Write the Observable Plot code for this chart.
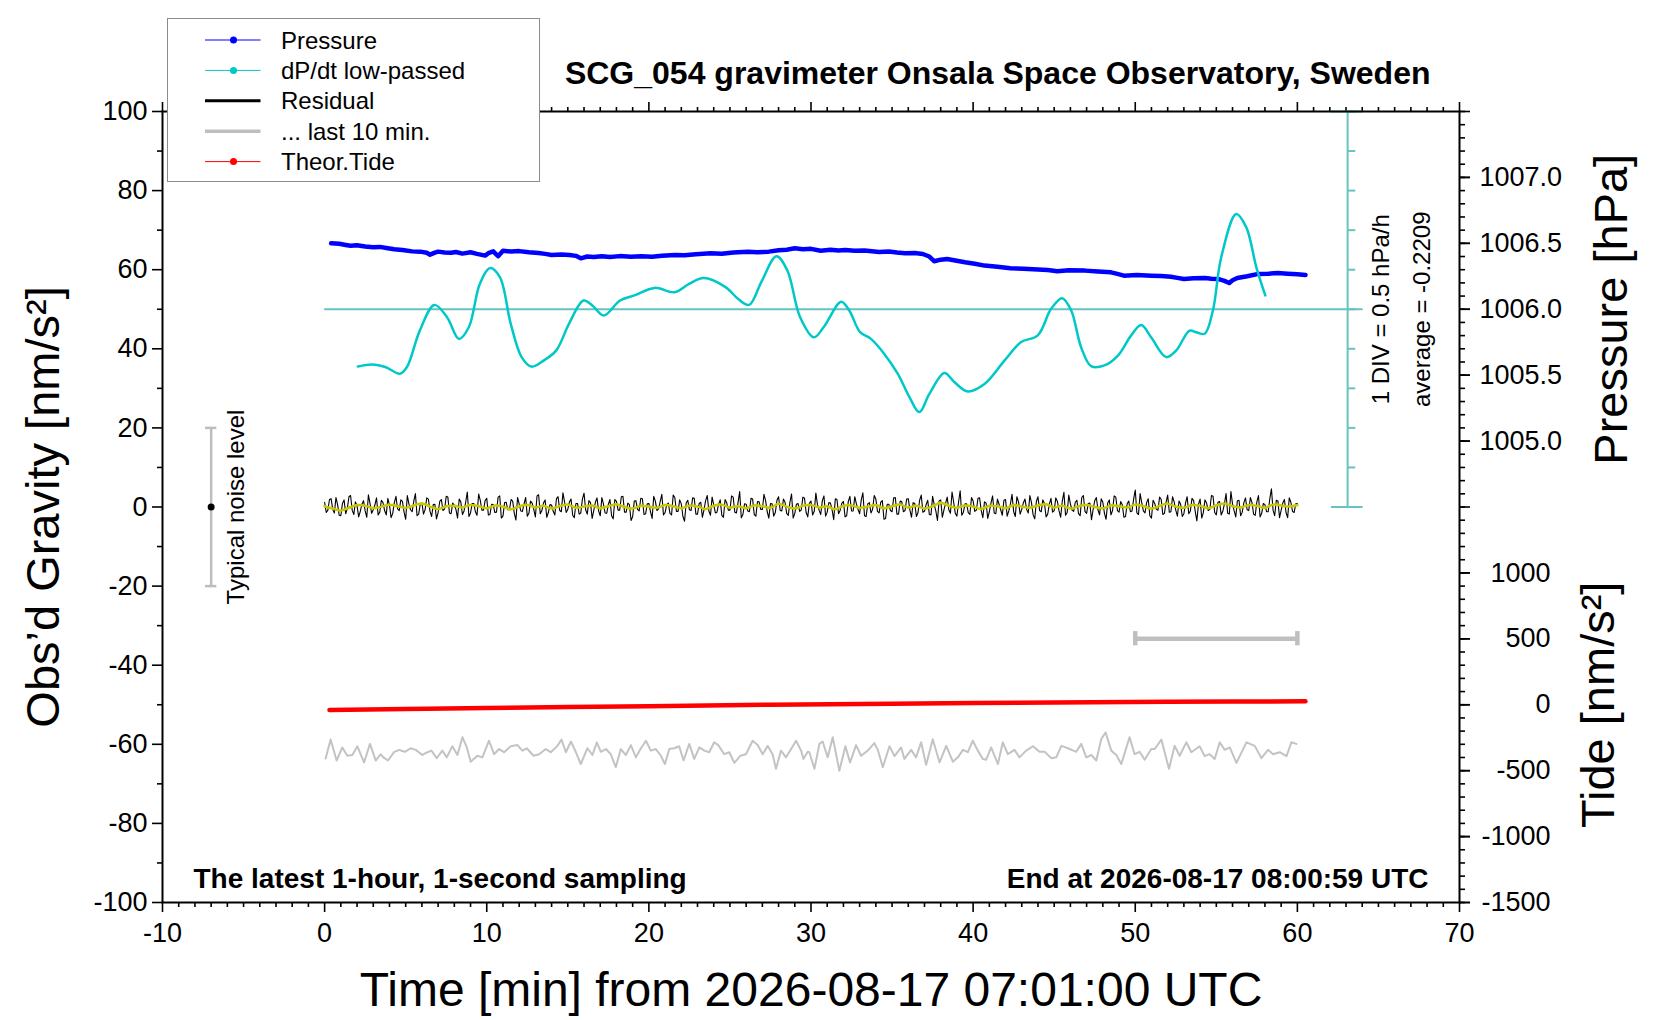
<!DOCTYPE html>
<html>
<head>
<meta charset="utf-8">
<script src="https://cdn.jsdelivr.net/npm/d3@7"></script>
<script src="https://cdn.jsdelivr.net/npm/@observablehq/plot@0.6"></script>
<style>
  html, body { margin: 0; padding: 0; background: white; overflow: hidden; }
  #wrap { position: relative; width: 1660px; height: 1020px; font-family: 'Liberation Sans', Arial, Helvetica, sans-serif; }
  #legend { position: absolute; left: 166.7px; top: 18.3px; width: 373px; height: 164px; box-sizing: border-box;
            border: 1px solid #8c8c8c; background: white; }
</style>
</head>
<body>
<div id="wrap"><div id="legend"></div></div>
<script>
// ---------- data ----------
const titleText = "SCG_054 gravimeter Onsala Space Observatory, Sweden";
const xLabel = "Time [min] from 2026-08-17 07:01:00 UTC";
const yLabelLeft = "Obs\u2019d Gravity [nm/s\u00B2]";
const yLabelPressure = "Pressure [hPa]";
const yLabelTide = "Tide [nm/s\u00B2]";
const noteLeft = "The latest 1-hour, 1-second sampling";
const noteRight = "End at 2026-08-17 08:00:59 UTC";
const divText = "1 DIV = 0.5 hPa/h";
const avgText = "average = -0.2209";
const noiseText = "Typical noise level";

// Pressure [hPa]: [minute, value]
const pressure = [[0.4,1006.500],[0.9,1006.497],[1.3,1006.488],[1.6,1006.482],[2.0,1006.485],[2.5,1006.476],[3.0,1006.470],[3.4,1006.473],[3.9,1006.463],[4.3,1006.455],[4.8,1006.450],[5.4,1006.439],[5.9,1006.437],[6.3,1006.428],[6.5,1006.414],[6.8,1006.430],[7.0,1006.437],[7.4,1006.431],[7.8,1006.428],[8.1,1006.434],[8.5,1006.422],[9.0,1006.432],[9.4,1006.420],[9.9,1006.407],[10.1,1006.425],[10.4,1006.439],[10.7,1006.402],[11.0,1006.444],[11.5,1006.438],[12.0,1006.441],[12.6,1006.432],[13.2,1006.426],[13.6,1006.420],[14.0,1006.412],[14.6,1006.416],[15.1,1006.412],[15.5,1006.405],[15.8,1006.386],[16.2,1006.400],[16.6,1006.396],[17.1,1006.402],[17.6,1006.397],[18.2,1006.403],[18.9,1006.399],[19.5,1006.402],[20.2,1006.399],[20.8,1006.405],[21.6,1006.412],[22.2,1006.409],[22.9,1006.418],[23.8,1006.424],[24.5,1006.421],[25.2,1006.430],[26.1,1006.437],[26.7,1006.432],[27.4,1006.437],[28.0,1006.447],[28.5,1006.452],[29.0,1006.462],[29.5,1006.455],[30.0,1006.458],[30.6,1006.444],[31.2,1006.452],[31.7,1006.446],[32.1,1006.449],[32.7,1006.443],[33.3,1006.446],[34.2,1006.435],[34.8,1006.438],[35.3,1006.430],[35.8,1006.424],[36.4,1006.426],[36.9,1006.419],[37.3,1006.400],[37.6,1006.364],[38.0,1006.376],[38.4,1006.381],[38.9,1006.370],[39.5,1006.356],[40.1,1006.345],[40.7,1006.331],[41.5,1006.322],[42.3,1006.311],[43.1,1006.308],[44.0,1006.301],[44.6,1006.297],[45.2,1006.288],[45.9,1006.296],[46.9,1006.293],[47.7,1006.287],[48.5,1006.280],[48.9,1006.268],[49.3,1006.255],[50.1,1006.259],[51.0,1006.255],[51.6,1006.252],[52.2,1006.247],[52.6,1006.238],[53.0,1006.230],[53.6,1006.235],[54.3,1006.237],[54.7,1006.232],[55.1,1006.230],[55.5,1006.215],[55.8,1006.199],[56.0,1006.220],[56.3,1006.237],[56.9,1006.250],[57.6,1006.268],[58.2,1006.270],[58.8,1006.275],[59.4,1006.270],[60.0,1006.266],[60.5,1006.260]];

// dP/dt low-passed, deviation from reference line [hPa/h]: [minute, value]
const dpdt = [[2.05,-0.725],[2.95,-0.70],[3.74,-0.73],[4.64,-0.815],[5.08,-0.73],[5.87,-0.27],[6.77,0.055],[7.55,-0.10],[8.29,-0.375],[8.90,-0.225],[9.57,0.32],[10.20,0.52],[10.81,0.405],[11.48,-0.185],[12.15,-0.605],[12.76,-0.725],[13.50,-0.65],[14.29,-0.52],[15.07,-0.185],[15.97,0.11],[16.53,0.045],[17.21,-0.08],[18.22,0.11],[19.11,0.175],[20.35,0.27],[21.58,0.215],[22.48,0.32],[23.38,0.395],[24.73,0.28],[25.51,0.13],[26.18,0.055],[26.97,0.36],[27.87,0.67],[28.54,0.49],[29.33,-0.10],[30.18,-0.355],[30.79,-0.225],[31.86,0.095],[32.36,-0.015],[33.03,-0.29],[33.70,-0.375],[34.52,-0.565],[35.35,-0.815],[36.07,-1.11],[36.68,-1.30],[37.30,-1.07],[38.23,-0.805],[38.84,-0.92],[39.67,-1.04],[40.70,-0.945],[41.93,-0.65],[42.96,-0.415],[43.99,-0.33],[44.81,0.005],[45.49,0.14],[46.05,-0.015],[46.66,-0.48],[47.28,-0.72],[48.10,-0.71],[48.93,-0.585],[49.75,-0.33],[50.37,-0.20],[50.98,-0.355],[51.91,-0.605],[52.53,-0.52],[53.35,-0.27],[53.76,-0.29],[54.28,-0.31],[54.79,-0.015],[55.30,0.655],[56.23,1.205],[56.85,1.035],[57.47,0.53],[58.02,0.175]];

// Residual [nm/s^2]: samples at 0, 0.2, 0.4 ... min
const residualStep = 0.2;
const residual = [
1.2,-0.8,2.1,-1.5,0.6,-2.2,1.8,-0.4,2.9,-1.9,0.3,-1.1,1.6,-2.6,0.9,-0.7,2.3,-1.3,1.1,-2.0,
0.5,-1.6,2.7,-0.9,1.4,-3.1,0.8,-1.2,3.4,-1.8,1.0,-0.6,2.0,-2.4,0.7,-1.4,1.9,-0.5,2.5,-1.7,
0.4,-2.8,1.3,-1.0,3.8,-1.5,0.9,-2.1,1.7,-0.8,2.2,-1.9,0.6,-1.3,2.8,-2.3,1.2,-0.7,1.5,-3.3,
0.8,-1.1,2.4,-1.6,1.0,-2.5,3.1,-0.9,1.8,-1.4,0.5,-2.0,2.6,-1.2,1.3,-0.6,2.0,-2.7,0.9,-1.5,
3.5,-1.8,1.1,-0.9,2.3,-2.2,0.7,-1.6,1.9,-3.0,1.4,-0.8,2.7,-1.3,0.6,-2.4,1.6,-1.0,2.1,-1.7,
0.9,-2.9,1.5,-0.5,3.2,-1.4,1.0,-2.0,2.4,-1.1,0.8,-3.6,1.7,-0.9,2.2,-1.8,1.2,-0.7,2.9,-2.1,
0.6,-1.3,1.8,-2.6,1.1,-0.8,2.5,-1.5,3.9,-1.9,0.7,-1.2,2.0,-2.3,1.3,-0.6,1.6,-2.8,0.8,-1.4,
2.6,-1.0,1.2,-2.1,3.3,-1.6,0.9,-0.7,2.2,-2.5,1.5,-1.1,0.6,-1.9,2.8,-1.3,1.0,-3.2,1.9,-0.8,
1.4,-2.2,2.7,-1.0,0.8,-1.7,3.6,-2.4,1.1,-0.6,2.0,-1.5,1.6,-2.9,0.7,-1.2,2.4,-1.8,1.3,-0.9,
2.1,-2.6,0.9,-1.4,3.0,-1.1,1.7,-2.0,0.6,-3.4,1.8,-0.7,2.5,-1.6,1.2,-2.3,4.1,-1.3,0.8,-1.9,
1.5,-0.8,2.3,-2.7,1.0,-1.2,2.8,-1.7,0.7,-2.1,1.9,-1.0,3.2,-2.4,1.3,-0.6,2.0,-1.5,1.1,-3.0,
2.6,-1.2,0.9,-1.8,2.2,-0.9,1.4,-2.6,3.7,-1.4,0.8,-1.1,1.7,-2.2,2.9,-1.6,1.0,-0.7,2.4,-2.0,
1.2,-3.1,1.8,-0.9,2.5,-1.3,0.6,-2.4,1.5,-1.0,4.3,-1.9,1.1,-1.5,2.1,-2.8,0.9,-0.8,1.9,-1.6,
3.0,-1.2,1.3,-2.3,0.7,-1.7,2.6,-1.0,1.6,-3.5,2.0,-1.4,1.0,-0.6,2.7,-2.0,1.4,-1.1,3.4,-1.8,
0.8,-2.5,1.7,-1.3,2.3,-0.9,1.1,-2.1,2.9,-1.6,0.6,-1.2,4.6,-2.2,1.5,-0.8,1.9,-2.7,1.2,-1.4,
0.9];
// Residual [nm/s^2]: in-between samples at 0.1, 0.3, 0.5 ... min
const residualMid = [
-1.4,1.9,-0.6,2.4,-2.1,0.9,-1.7,2.6,-0.8,1.3,-2.5,0.7,-1.0,3.1,-1.6,0.5,-2.0,1.7,-0.9,2.2,
-2.7,1.1,-0.5,1.8,-1.3,2.9,-0.7,1.5,-2.2,0.8,-1.8,2.3,-1.1,0.6,-3.0,1.4,-0.9,2.7,-1.5,1.0,
-0.6,2.0,-1.9,1.2,-2.4,0.9,-1.2,3.3,-0.8,1.6,-2.0,0.7,-1.4,2.5,-2.8,1.1,-0.7,1.9,-1.6,2.4,
-1.0,0.8,-2.3,1.5,-0.6,2.8,-1.7,1.0,-2.6,0.6,-1.1,2.1,-0.9,3.6,-1.4,1.3,-2.1,0.9,-1.8,2.0,
-0.7,1.6,-2.9,1.2,-1.0,2.4,-1.5,0.7,-2.2,1.9,-0.8,2.6,-1.3,1.0,-3.4,1.5,-0.6,2.2,-1.9,0.8,
-1.2,2.7,-0.9,1.4,-2.0,0.6,-1.6,3.0,-1.1,1.8,-2.4,1.0,-0.7,2.3,-1.8,0.9,-2.6,1.6,-1.0,2.5,
-1.5,0.7,-2.1,1.9,-0.8,2.8,-1.3,1.1,-2.7,0.8,-1.0,2.2,-1.9,1.4,-0.6,3.2,-1.2,0.9,-2.3,1.7,
-0.9,2.0,-1.6,1.2,-2.8,0.7,-1.1,2.5,-1.4,1.0,-2.0,3.5,-0.8,1.6,-2.3,1.1,-0.7,2.1,-1.7,0.9,
-2.5,1.4,-1.0,2.6,-0.6,1.8,-2.2,0.8,-1.5,2.9,-1.1,1.2,-3.1,0.7,-0.9,2.3,-1.8,1.5,-1.2,2.0,
-0.8,1.1,-2.4,1.7,-1.3,0.6,-1.9,2.7,-1.0,1.5,-2.6,0.9,-0.7,3.8,-1.6,1.2,-2.1,0.8,-1.4,2.4,
-1.1,2.2,-0.9,1.3,-2.9,1.0,-1.5,2.0,-0.7,1.7,-2.3,0.8,-1.2,2.6,-1.8,1.1,-0.6,2.9,-2.0,1.4,
-0.9,1.8,-2.5,0.7,-1.3,2.3,-1.0,1.5,-2.1,3.0,-0.8,1.2,-1.7,2.4,-1.1,0.9,-3.2,1.6,-0.7,2.1,
-1.6,1.0,-2.0,2.8,-0.9,1.4,-2.6,0.8,-1.2,2.0,-1.5,3.4,-1.0,1.1,-2.2,1.7,-0.6,2.5,-1.9,1.2,
-1.3,2.6,-0.8,1.5,-2.4,1.0,-1.7,2.2,-1.1,0.7,-2.8,1.8,-0.9,2.9,-1.4,1.2,-2.0,0.8,-1.6,3.9,
-1.0,1.6,-2.2,1.1,-0.7,2.4,-1.8,1.3,-2.5,0.9,-1.2,2.1,-0.8,1.7,-2.7,1.0,-1.4,2.3,-1.1,0.8];

// Smoothed residual (yellow) [nm/s^2], one value every 0.5 min from 0
const smoothStep = 0.5;
const smoothRes = [
0.2,-0.4,-0.9,-0.2,0.5,0.3,-0.3,0.1,0.6,0.2,-0.2,0.4,0.9,0.1,-0.5,0.2,0.3,-0.1,0.5,0.2,
-0.3,0.4,0.1,-0.6,0.2,0.5,-0.1,0.3,-0.4,0.2,0.6,-0.2,0.1,0.4,-0.3,0.2,0.7,0.0,-0.4,0.3,
0.1,-0.2,0.5,0.2,-0.3,0.4,0.1,-0.5,0.3,0.6,-0.1,0.2,-0.3,0.4,0.2,-0.2,0.8,0.1,-0.4,0.3,
0.5,-0.1,0.2,-0.6,0.3,0.4,-0.2,0.1,0.5,-0.3,0.2,0.6,-0.1,0.3,-0.4,0.2,1.1,0.3,-0.2,0.4,
0.1,-0.5,0.3,0.2,-0.3,0.5,0.1,-0.2,0.4,0.7,-0.1,0.3,-0.4,0.2,0.5,0.0,-0.3,0.4,0.2,-0.1,
0.6,0.2,-0.4,0.3,0.8,0.1,-0.2,0.5,0.3,-0.3,0.4,0.9,0.2,-0.1,0.5,0.3,-0.2,0.6,0.4,0.1,0.5];

// Gray trace (plotted in gravity units): [minute, value]
const grayTrace = [[0.06,-63.6],[0.37,-58.8],[0.74,-64.1],[1.09,-60.8],[1.40,-62.9],[1.71,-62.7],[2.02,-60.5],[2.43,-64.6],[2.80,-59.9],[3.15,-64.1],[3.46,-62.5],[3.62,-63.3],[3.91,-64.1],[4.28,-62.0],[4.59,-61.4],[4.94,-61.9],[5.31,-61.0],[5.62,-61.4],[6.03,-62.7],[6.34,-62.0],[6.59,-61.6],[6.91,-63.5],[7.26,-61.6],[7.53,-63.3],[7.88,-60.5],[8.19,-62.7],[8.50,-58.2],[8.77,-60.8],[9.01,-64.4],[9.42,-62.9],[9.73,-63.3],[10.14,-59.1],[10.45,-62.5],[10.76,-61.2],[11.07,-62.0],[11.48,-60.5],[11.89,-60.2],[12.20,-61.6],[12.47,-61.0],[12.88,-62.9],[13.23,-62.5],[13.64,-61.2],[13.95,-62.0],[14.36,-60.4],[14.61,-58.8],[14.88,-62.0],[15.19,-59.3],[15.49,-61.9],[15.80,-65.0],[16.21,-61.0],[16.52,-62.7],[16.79,-59.5],[17.04,-61.9],[17.35,-61.2],[17.65,-62.5],[17.96,-65.8],[18.27,-61.2],[18.58,-62.7],[18.89,-60.2],[19.20,-63.3],[19.51,-61.0],[19.82,-59.1],[20.12,-61.6],[20.43,-61.2],[20.74,-62.9],[20.99,-65.0],[21.26,-61.2],[21.56,-61.0],[21.87,-60.5],[22.14,-64.1],[22.49,-59.9],[22.80,-63.7],[23.11,-60.8],[23.42,-61.6],[23.72,-62.0],[24.03,-59.5],[24.28,-60.2],[24.65,-62.5],[24.96,-62.0],[25.27,-64.7],[25.64,-62.9],[25.99,-62.5],[26.40,-59.1],[26.71,-60.2],[27.02,-62.5],[27.33,-60.4],[27.63,-62.5],[27.84,-66.2],[28.15,-61.6],[28.46,-63.3],[28.77,-61.2],[29.08,-59.1],[29.39,-61.6],[29.53,-63.7],[29.80,-61.9],[29.90,-62.0],[30.21,-66.2],[30.52,-59.9],[30.72,-59.3],[31.03,-63.3],[31.34,-58.2],[31.75,-66.7],[32.12,-60.5],[32.41,-64.6],[32.78,-60.2],[33.09,-62.9],[33.50,-61.6],[33.91,-59.7],[34.12,-61.4],[34.43,-65.8],[34.84,-60.5],[35.15,-63.0],[35.56,-60.8],[35.76,-63.7],[36.18,-61.4],[36.48,-63.3],[36.79,-59.5],[37.10,-65.2],[37.51,-58.7],[37.93,-64.6],[38.34,-60.4],[38.75,-64.4],[39.06,-63.3],[39.37,-61.4],[39.67,-62.0],[39.98,-59.1],[40.29,-61.6],[40.60,-63.7],[40.81,-63.9],[41.11,-60.8],[41.53,-65.0],[41.83,-59.5],[42.14,-62.5],[42.55,-61.4],[42.86,-63.3],[43.27,-61.6],[43.69,-60.5],[44.10,-61.9],[44.41,-61.9],[44.82,-63.5],[45.13,-63.3],[45.44,-60.4],[45.85,-61.0],[46.36,-61.9],[46.67,-59.9],[46.98,-63.3],[47.29,-62.7],[47.60,-64.1],[47.90,-58.7],[48.17,-57.0],[48.52,-61.6],[48.83,-62.7],[49.14,-65.0],[49.65,-58.2],[49.96,-62.5],[50.27,-61.9],[50.58,-63.9],[50.99,-61.2],[51.20,-61.2],[51.61,-58.8],[52.08,-66.2],[52.43,-60.4],[52.74,-62.9],[53.15,-59.5],[53.46,-62.0],[53.97,-60.5],[54.28,-63.0],[54.59,-62.5],[54.90,-63.7],[55.21,-59.5],[55.52,-61.4],[55.83,-60.8],[56.24,-64.7],[56.86,-59.5],[57.37,-60.4],[57.78,-63.5],[58.19,-61.4],[58.50,-62.5],[58.91,-62.0],[59.33,-63.0],[59.63,-59.5],[59.94,-59.9]];

// Theoretical tide [nm/s^2]: [minute, value]
const tide = [[0.3,-40],[5,-33],[10,-25],[15,-18],[20,-11],[27.5,0],[35,8],[40,13],[45,17],[52,22],[56,24],[60.5,26]];

// Typical noise level bar
const noiseBar = {x: -7, level: 20};
// "last 10 min" marker bar
const last10 = {x1: 50, x2: 60, y: -33.3};
// dP/dt division scale bar
const divBar = {x: 63.1, y1: 0, y2: 100, step: 10, zero: 50, unitsPerHPaH: 20};

// Axis ticks
const xMajor = d3.range(-10, 71, 10);
const xMinor = d3.range(-10, 71, 1).filter(v => v % 10 !== 0);
const yMajor = d3.range(-100, 101, 20);
const yMinor = d3.range(-90, 100, 20);
const pressureTicks = [1005.0, 1005.5, 1006.0, 1006.5, 1007.0];
const tideTicks = [-1500, -1000, -500, 0, 500, 1000];

// legend entries
const legendItems = [
  {name: "Pressure", color: "#0000ff", width: 1, dot: true},
  {name: "dP/dt low-passed", color: "#00c8c8", width: 1, dot: true},
  {name: "Residual", color: "#000000", width: 3, dot: false},
  {name: "... last 10 min.", color: "#bebebe", width: 3.5, dot: false},
  {name: "Theor.Tide", color: "#ff0000", width: 1, dot: true}
];

// ---------- mapping of right-hand quantities onto the gravity axis ----------
const pToU = p => 50 + (p - 1006.0) * (100 / 3);     // 1006.0 hPa at 50, 0.5 hPa = 16.67
const uToP = u => 1006.0 + (u - 50) * 0.03;
const tToU = t => -50 + t / 30;                        // 0 nm/s^2 at -50, 500 = 16.67
const uToT = u => (u + 50) * 30;
const rightMinor = d3.range(0, 61).map(i => -100 + i * 10 / 3);
const rightMajor = d3.range(0, 13).map(i => -100 + i * 50 / 3);

const resData = residual.map((v, i) => ({t: i * residualStep, v}))
  .concat(residualMid.map((v, i) => ({t: i * residualStep + residualStep / 2, v})))
  .sort((a, b) => a.t - b.t);
const smoothData = smoothRes.map((v, i) => ({t: i * smoothStep, v}));

const FONT = "'Liberation Sans', Arial, Helvetica, sans-serif";
const tickW = 1.6;

const chart = Plot.plot({
  width: 1660, height: 1020,
  marginLeft: 162, marginRight: 201, marginTop: 111, marginBottom: 118,
  x: {domain: [-10, 70]},
  y: {domain: [-100, 100]},
  style: {fontFamily: FONT, fontSize: "27px", background: "white", color: "black"},
  marks: [
    // axes
    Plot.axisX({ticks: xMajor, anchor: "bottom", tickSize: 10, tickPadding: 10, fontSize: 27, tickFormat: d => String(d), label: null, strokeWidth: tickW}),
    Plot.axisX({ticks: xMinor, anchor: "bottom", tickSize: 5, text: null, label: null, strokeWidth: tickW}),
    Plot.axisX({ticks: xMajor, anchor: "top", tickSize: 10, text: null, label: null, strokeWidth: tickW}),
    Plot.axisX({ticks: xMinor, anchor: "top", tickSize: 5, text: null, label: null, strokeWidth: tickW}),
    Plot.axisY({ticks: yMajor, anchor: "left", tickSize: 10, tickPadding: 5, fontSize: 27, tickFormat: d => String(d), label: null, strokeWidth: tickW}),
    Plot.axisY({ticks: yMinor, anchor: "left", tickSize: 5, text: null, label: null, strokeWidth: tickW}),
    Plot.axisY({ticks: rightMinor, anchor: "right", tickSize: 5, text: null, label: null, strokeWidth: tickW}),
    Plot.axisY({ticks: rightMajor, anchor: "right", tickSize: 10, text: null, label: null, strokeWidth: tickW}),
    Plot.axisY({ticks: pressureTicks.map(pToU), anchor: "right", tickSize: 10, tickPadding: 10, textAnchor: "start",
                fontSize: 27, tickFormat: u => uToP(u).toFixed(1), label: null, strokeWidth: tickW}),
    Plot.axisY({ticks: tideTicks.map(tToU), anchor: "right", tickSize: 10, tickPadding: 81, textAnchor: "end",
                fontSize: 27, tickFormat: u => String(Math.round(uToT(u))), label: null, strokeWidth: tickW}),

    // dP/dt scale bar and reference line
    Plot.ruleY([divBar.zero], {x1: 0, x2: divBar.x + 0.95, stroke: "#66c4c0", strokeWidth: 2}),
    Plot.ruleX([divBar.x], {y1: divBar.y1, y2: divBar.y2, stroke: "#66c4c0", strokeWidth: 2}),
    Plot.ruleY(d3.range(divBar.y1, divBar.y2 + 1, divBar.step), {x1: divBar.x, x2: divBar.x + 0.5, stroke: "#66c4c0", strokeWidth: 2}),
    Plot.ruleY([divBar.y1, divBar.y2], {x1: divBar.x - 1, x2: divBar.x + 0.95, stroke: "#66c4c0", strokeWidth: 2}),

    // typical noise level
    Plot.ruleX([noiseBar], {x: "x", y1: d => -d.level, y2: d => d.level, stroke: "#bdbdbd", strokeWidth: 2.5}),
    Plot.ruleY([-noiseBar.level, noiseBar.level], {x1: noiseBar.x - 0.35, x2: noiseBar.x + 0.35, stroke: "#bdbdbd", strokeWidth: 2.5}),
    Plot.dot([noiseBar], {x: "x", y: 0, r: 3.5, fill: "black"}),

    // last 10 min marker
    Plot.ruleY([last10], {y: "y", x1: "x1", x2: "x2", stroke: "#bfbfbf", strokeWidth: 4.5}),
    Plot.ruleX([last10.x1, last10.x2], {y1: last10.y - 1.8, y2: last10.y + 1.8, stroke: "#bfbfbf", strokeWidth: 4.5}),

    // data
    Plot.line(grayTrace, {x: d => d[0], y: d => d[1], stroke: "#c3c3c3", strokeWidth: 2}),
    Plot.line(tide, {x: d => d[0], y: d => tToU(d[1]), stroke: "#ff0000", strokeWidth: 4.5}),
    Plot.line(resData, {x: "t", y: "v", stroke: "black", strokeWidth: 1.1}),
    Plot.line(smoothData, {x: "t", y: "v", stroke: "#c8c800", strokeWidth: 2.5, curve: "catmull-rom"}),
    Plot.line(pressure, {x: d => d[0], y: d => pToU(d[1]), stroke: "#0000ff", strokeWidth: 4.5}),
    Plot.line(dpdt, {x: d => d[0], y: d => divBar.zero + d[1] * divBar.unitsPerHPaH, stroke: "#00c8c8", strokeWidth: 2.5, curve: "catmull-rom"}),

    Plot.frame({stroke: "black", strokeWidth: 2}),

    // texts
    Plot.text([titleText], {text: d => d, frameAnchor: "top-right", dx: -29, dy: -28, textAnchor: "end", lineAnchor: "bottom", fontSize: 32, fontWeight: "bold"}),
    Plot.text([noteLeft], {text: d => d, frameAnchor: "bottom-left", dx: 31, dy: -15, textAnchor: "start", lineAnchor: "bottom", fontSize: 28, fontWeight: "bold"}),
    Plot.text([noteRight], {text: d => d, frameAnchor: "bottom-right", dx: -31, dy: -15, textAnchor: "end", lineAnchor: "bottom", fontSize: 28, fontWeight: "bold"}),
    Plot.text([xLabel], {text: d => d, frameAnchor: "bottom", dy: 103, textAnchor: "middle", lineAnchor: "bottom", fontSize: 48}),
    Plot.text([yLabelLeft], {text: d => d, frameAnchor: "left", dx: -104, rotate: -90, textAnchor: "middle", lineAnchor: "bottom", fontSize: 47}),
    Plot.text([yLabelPressure], {text: d => d, y: pToU(1006.0), frameAnchor: "right", dx: 167, rotate: -90, textAnchor: "middle", lineAnchor: "bottom", fontSize: 47}),
    Plot.text([yLabelTide], {text: d => d, y: tToU(0), frameAnchor: "right", dx: 154, rotate: -90, textAnchor: "middle", lineAnchor: "bottom", fontSize: 47}),
    Plot.text([noiseText], {text: d => d, x: noiseBar.x, y: 0, dx: 33, rotate: -90, textAnchor: "middle", lineAnchor: "bottom", fontSize: 24}),
    Plot.text([divText], {text: d => d, x: divBar.x, y: divBar.zero, dx: 41, rotate: -90, textAnchor: "middle", lineAnchor: "bottom", fontSize: 24}),
    Plot.text([avgText], {text: d => d, x: divBar.x, y: divBar.zero, dx: 82, rotate: -90, textAnchor: "middle", lineAnchor: "bottom", fontSize: 24})
  ]
});

const wrap = document.getElementById("wrap");
chart.style.position = "absolute";
chart.style.left = "0";
chart.style.top = "0";
chart.style.maxWidth = "none";
wrap.insertBefore(chart, wrap.firstChild);

// ---------- legend (HTML overlay) ----------
const NS = "http://www.w3.org/2000/svg";
const lg = document.createElementNS(NS, "svg");
lg.setAttribute("width", 371); lg.setAttribute("height", 162);
lg.style.fontFamily = FONT;
legendItems.forEach((it, i) => {
  const cy = 21 + i * 30.4;
  const ln = document.createElementNS(NS, "line");
  ln.setAttribute("x1", 37); ln.setAttribute("x2", 92.5);
  ln.setAttribute("y1", cy); ln.setAttribute("y2", cy);
  ln.setAttribute("stroke", it.color); ln.setAttribute("stroke-width", it.width);
  lg.appendChild(ln);
  if (it.dot) {
    const c = document.createElementNS(NS, "circle");
    c.setAttribute("cx", 65.5); c.setAttribute("cy", cy); c.setAttribute("r", 3.5);
    c.setAttribute("fill", it.color);
    lg.appendChild(c);
  }
  const tx = document.createElementNS(NS, "text");
  tx.setAttribute("x", 113); tx.setAttribute("y", cy + 8.5);
  tx.setAttribute("font-size", 24);
  tx.textContent = it.name;
  lg.appendChild(tx);
});
document.getElementById("legend").appendChild(lg);
</script>
</body>
</html>
